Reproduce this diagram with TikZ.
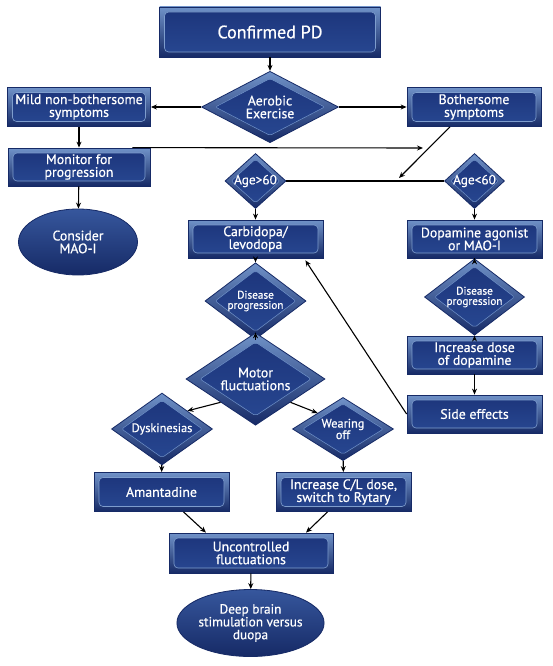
\documentclass[tikz,border=0pt]{standalone}
\usepackage{fontspec}
\setmainfont{PT Sans}[FakeBold=0.6]
\usetikzlibrary{shapes.geometric,arrows.meta,calc}
\definecolor{bdark}{RGB}{22,42,102}
\definecolor{bmid}{RGB}{40,72,146}
\definecolor{blight}{RGB}{112,146,200}
\definecolor{binner}{RGB}{28,52,122}
\newcommand\fntbig{\fontsize{18}{20}\selectfont}
\newcommand\fntbox{\fontsize{13.8}{12.8}\selectfont\lineskiplimit=-20pt}
\newcommand\fntell{\fontsize{13.3}{12.8}\selectfont\lineskiplimit=-20pt}
\newcommand\fntsmall{\fontsize{11.2}{10.2}\selectfont\lineskiplimit=-20pt}
\newcommand\fntmid{\fontsize{12.3}{11.5}\selectfont\lineskiplimit=-20pt}
\tikzset{
  boxnode/.style={rectangle, draw=bdark, line width=0.8pt, top color=blight, bottom color=bdark,
    text=white, align=center, inner sep=0pt, font=\fntbox,
    path picture={\draw[draw=blight!90!white, line width=0.6pt, top color=binner, bottom color=bmid, rounded corners=4pt]
      ([shift={(5pt,-5pt)}]path picture bounding box.north west) rectangle
      ([shift={(-5pt,5pt)}]path picture bounding box.south east);}},
  dianode/.style={diamond, draw=bdark, line width=0.8pt, top color=blight, bottom color=bdark,
    text=white, align=center, inner sep=0pt, font=\fntbox,
    path picture={\draw[draw=blight, line width=0.5pt, top color=binner, bottom color=bmid, rounded corners=2pt]
      ($(path picture bounding box.center)!0.8!(path picture bounding box.north)$) --
      ($(path picture bounding box.center)!0.8!(path picture bounding box.east)$) --
      ($(path picture bounding box.center)!0.8!(path picture bounding box.south)$) --
      ($(path picture bounding box.center)!0.8!(path picture bounding box.west)$) -- cycle;}},
  ellnode/.style={ellipse, draw=bdark, line width=0.8pt, top color=bmid!80!blight, bottom color=bdark,
    text=white, align=center, inner sep=0pt, font=\fntbox},
  conn/.style={-{Stealth[length=6pt,width=5pt]}, line width=1.1pt, black},
  plain/.style={line width=1.1pt, black}
}
\begin{document}
\begin{tikzpicture}[x=1pt,y=-1pt]
\path[use as bounding box, fill=white] (0,0) rectangle (553,666);
% nodes
\node[boxnode, minimum width=221pt, minimum height=50pt, font=\fntbig] (conf) at (270,32) {Confirmed PD};
\node[dianode, minimum width=137pt, minimum height=66pt] (aer) at (270,107) {Aerobic\\Exercise};
\node[boxnode, minimum width=143pt, minimum height=39pt] (mild) at (79,107) {Mild non-bothersome\\symptoms};
\node[boxnode, minimum width=134pt, minimum height=39pt] (both) at (474,107) {Bothersome\\symptoms};
\node[boxnode, minimum width=142pt, minimum height=38pt] (mon) at (79,167) {Monitor for\\progression};
\node[ellnode, minimum width=119pt, minimum height=66pt] (cons) at (78,242) {Consider\\MAO-I};
\node[dianode, minimum width=61pt, minimum height=34pt, font=\fntell] (agea) at (255.5,181) {Age>60};
\node[dianode, minimum width=60pt, minimum height=34pt, font=\fntell] (ageb) at (474.5,181) {Age<60};
\node[boxnode, minimum width=135pt, minimum height=38pt] (carbi) at (255.5,239) {Carbidopa/\\levodopa};
\node[boxnode, minimum width=135pt, minimum height=38pt] (dopa) at (474.5,239) {Dopamine agonist\\or MAO-I};
\node[dianode, minimum width=101pt, minimum height=45pt, font=\fntsmall] (disa) at (255.5,301) {Disease\\progression};
\node[dianode, minimum width=100pt, minimum height=44pt, font=\fntsmall] (disb) at (474.5,297) {Disease\\progression};
\node[dianode, minimum width=139pt, minimum height=68pt] (motor) at (255.5,379) {Motor\\fluctuations};
\node[boxnode, minimum width=135pt, minimum height=38pt] (incr) at (474.5,355) {Increase dose\\of dopamine};
\node[boxnode, minimum width=135pt, minimum height=38pt] (side) at (474.5,414) {Side effects};
\node[dianode, minimum width=101pt, minimum height=44pt, font=\fntmid] (dysk) at (162,429) {Dyskinesias};
\node[dianode, minimum width=101pt, minimum height=44pt, font=\fntmid] (wear) at (343,429) {Wearing\\off};
\node[boxnode, minimum width=135pt, minimum height=39pt] (amant) at (161.5,492) {Amantadine};
\node[boxnode, minimum width=135pt, minimum height=39pt] (inccl) at (343.5,492) {Increase C/L dose,\\switch to Rytary};
\node[boxnode, minimum width=164pt, minimum height=40pt] (unc) at (251,553) {Uncontrolled\\fluctuations};
\node[ellnode, minimum width=121pt, minimum height=67pt, font=\fntell] (deep) at (250.5,623) {Deep brain\\stimulation versus\\duopa};
\coordinate (m1) at (423,148);
\coordinate (b1) at (399,178);
% connectors
\draw[conn] (conf) -- (aer);
\draw[conn] (aer.west) -- (mild.east);
\draw[conn] (aer.east) -- (both.west);
\draw[conn] (mild) -- (mon);
\draw[conn] ($(mon.north east)+(-18pt,0pt)$) -- (m1);
\draw[conn] ($(both.south)+(-24pt,0pt)$) -- (b1);
\draw[plain] (agea.east) -- (ageb.west);
\draw[conn] (mon) -- (cons);
\draw[conn] (agea) -- (carbi);
\draw[conn] (ageb) -- (dopa);
\draw[conn] (carbi) -- (disa);
\draw[conn] (disa) -- (motor);
\draw[conn] (dopa) -- (disb);
\draw[conn] (disb) -- (incr);
\draw[conn] (incr) -- (side);
\draw[conn] (side.west) -- ($(carbi.south east)+(-18pt,-2pt)$);
\draw[conn] (motor.south west) -- (dysk.north east);
\draw[conn] (motor.south east) -- (wear.north west);
\draw[conn] (dysk) -- (amant);
\draw[conn] (wear) -- (inccl);
\draw[conn] ($(amant.south)+(22pt,0pt)$) -- ($(unc.north)+(-45pt,0pt)$);
\draw[conn] ($(inccl.south)+(-16pt,0pt)$) -- ($(unc.north)+(55pt,0pt)$);
\draw[conn] (unc) -- (deep);
\end{tikzpicture}
\end{document}
